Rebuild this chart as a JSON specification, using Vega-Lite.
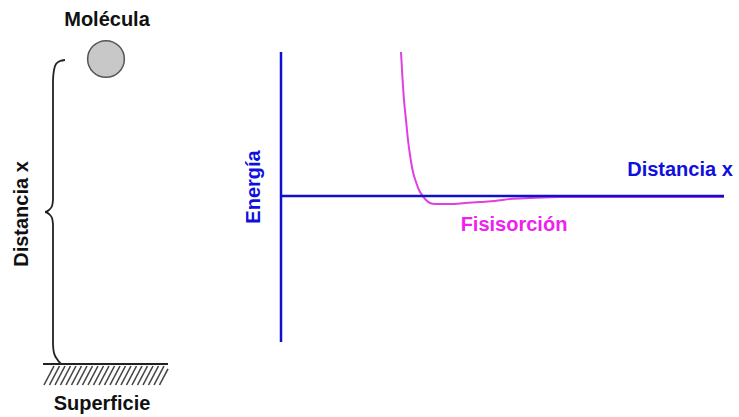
{
  "$schema": "https://vega.github.io/schema/vega-lite/v6.json",
  "width": 739,
  "height": 417,
  "padding": 0,
  "autosize": {"type": "fit", "contains": "padding"},
  "config": {"view": {"stroke": null}, "background": "white"},
  "datasets": {
    "labels": [
      {"x": 107, "y": 20, "text": "Molécula", "color": "black", "angle": 0},
      {"x": 102, "y": 404, "text": "Superficie", "color": "black", "angle": 0},
      {"x": 680, "y": 170, "text": "Distancia x", "color": "blue", "angle": 0},
      {"x": 514, "y": 225, "text": "Fisisorción", "color": "magenta", "angle": 0}
    ],
    "vlabels": [
      {"x": 22, "y": 214, "text": "Distancia x", "color": "black"},
      {"x": 254, "y": 187, "text": "Energía", "color": "blue"}
    ],
    "molecule": [{"x": 106, "y": 59}],
    "brace": [
      {"i": 0, "x": 65, "y": 60}, {"i": 1, "x": 60, "y": 61}, {"i": 2, "x": 56, "y": 64},
      {"i": 3, "x": 54, "y": 70}, {"i": 4, "x": 53, "y": 80}, {"i": 5, "x": 53, "y": 200},
      {"i": 6, "x": 52, "y": 206}, {"i": 7, "x": 49, "y": 210}, {"i": 8, "x": 45, "y": 212},
      {"i": 9, "x": 49, "y": 214}, {"i": 10, "x": 52, "y": 218}, {"i": 11, "x": 53, "y": 224},
      {"i": 12, "x": 53, "y": 345}, {"i": 13, "x": 54, "y": 353}, {"i": 14, "x": 57, "y": 359},
      {"i": 15, "x": 61, "y": 364}
    ],
    "surface": [{"x": 43, "y": 364, "x2": 168, "y2": 364}],
    "hatch": [
      {"x": 44, "y": 385, "x2": 54, "y2": 366}, {"x": 49.5, "y": 385, "x2": 59.5, "y2": 366},
      {"x": 55, "y": 385, "x2": 65, "y2": 366}, {"x": 60.5, "y": 385, "x2": 70.5, "y2": 366},
      {"x": 66, "y": 385, "x2": 76, "y2": 366}, {"x": 71.5, "y": 385, "x2": 81.5, "y2": 366},
      {"x": 77, "y": 385, "x2": 87, "y2": 366}, {"x": 82.5, "y": 385, "x2": 92.5, "y2": 366},
      {"x": 88, "y": 385, "x2": 98, "y2": 366}, {"x": 93.5, "y": 385, "x2": 103.5, "y2": 366},
      {"x": 99, "y": 385, "x2": 109, "y2": 366}, {"x": 104.5, "y": 385, "x2": 114.5, "y2": 366},
      {"x": 110, "y": 385, "x2": 120, "y2": 366}, {"x": 115.5, "y": 385, "x2": 125.5, "y2": 366},
      {"x": 121, "y": 385, "x2": 131, "y2": 366}, {"x": 126.5, "y": 385, "x2": 136.5, "y2": 366},
      {"x": 132, "y": 385, "x2": 142, "y2": 366}, {"x": 137.5, "y": 385, "x2": 147.5, "y2": 366},
      {"x": 143, "y": 385, "x2": 153, "y2": 366}, {"x": 148.5, "y": 385, "x2": 158.5, "y2": 366},
      {"x": 154, "y": 385, "x2": 164, "y2": 366}, {"x": 159.5, "y": 385, "x2": 168, "y2": 368.8}
    ],
    "curve": [
      {"i": 0, "x": 401, "y": 52}, {"i": 1, "x": 402, "y": 70}, {"i": 2, "x": 404, "y": 100},
      {"i": 3, "x": 406, "y": 120}, {"i": 4, "x": 408, "y": 140}, {"i": 5, "x": 410, "y": 155},
      {"i": 6, "x": 413, "y": 172}, {"i": 7, "x": 416, "y": 182}, {"i": 8, "x": 419, "y": 190},
      {"i": 9, "x": 422, "y": 195}, {"i": 10, "x": 426, "y": 200}, {"i": 11, "x": 430, "y": 203},
      {"i": 12, "x": 435, "y": 204}, {"i": 13, "x": 450, "y": 204}, {"i": 14, "x": 465, "y": 203},
      {"i": 15, "x": 480, "y": 202}, {"i": 16, "x": 495, "y": 201}, {"i": 17, "x": 510, "y": 199},
      {"i": 18, "x": 530, "y": 198}, {"i": 19, "x": 560, "y": 197}, {"i": 20, "x": 724, "y": 197}
    ],
    "axes": [
      {"x": 281, "y": 52, "x2": 281, "y2": 342},
      {"x": 281, "y": 196, "x2": 724, "y2": 196}
    ]
  },
  "encoding": {
    "x": {"field": "x", "type": "quantitative", "scale": {"domain": [0, 739], "nice": false, "zero": false}, "axis": null},
    "y": {"field": "y", "type": "quantitative", "scale": {"domain": [0, 417], "nice": false, "zero": false, "reverse": true}, "axis": null}
  },
  "layer": [
    {
      "data": {"name": "curve"},
      "mark": {"type": "line", "color": "#e040e0", "strokeWidth": 2, "interpolate": "monotone"},
      "encoding": {"order": {"field": "i", "type": "quantitative"}}
    },
    {
      "data": {"name": "axes"},
      "mark": {"type": "rule", "color": "#1010cc", "strokeWidth": 2.5},
      "encoding": {
        "x2": {"field": "x2"},
        "y2": {"field": "y2"}
      }
    },
    {
      "data": {"name": "brace"},
      "mark": {"type": "line", "color": "#222222", "strokeWidth": 1.8, "interpolate": "monotone"},
      "encoding": {"order": {"field": "i", "type": "quantitative"}}
    },
    {
      "data": {"name": "hatch"},
      "mark": {"type": "rule", "color": "#444444", "strokeWidth": 1.6},
      "encoding": {"x2": {"field": "x2"}, "y2": {"field": "y2"}}
    },
    {
      "data": {"name": "surface"},
      "mark": {"type": "rule", "color": "#222222", "strokeWidth": 2},
      "encoding": {"x2": {"field": "x2"}, "y2": {"field": "y2"}}
    },
    {
      "data": {"name": "molecule"},
      "mark": {"type": "point", "shape": "circle", "size": 1350, "filled": true, "fill": "#c8c8c8", "stroke": "#555555", "strokeWidth": 1.5, "opacity": 1}
    },
    {
      "data": {"name": "labels"},
      "mark": {"type": "text", "font": "Liberation Sans", "fontWeight": "bold", "fontSize": 20, "baseline": "middle", "align": "center"},
      "encoding": {
        "text": {"field": "text"},
        "color": {"field": "color", "type": "nominal", "scale": {"domain": ["black", "blue", "magenta"], "range": ["#111111", "#1010dd", "#ee22ee"]}, "legend": null}
      }
    },
    {
      "data": {"name": "vlabels"},
      "mark": {"type": "text", "font": "Liberation Sans", "fontWeight": "bold", "fontSize": 20, "baseline": "middle", "align": "center", "angle": 270},
      "encoding": {
        "text": {"field": "text"},
        "color": {"field": "color", "type": "nominal", "scale": {"domain": ["black", "blue", "magenta"], "range": ["#111111", "#1010dd", "#ee22ee"]}, "legend": null}
      }
    }
  ]
}
